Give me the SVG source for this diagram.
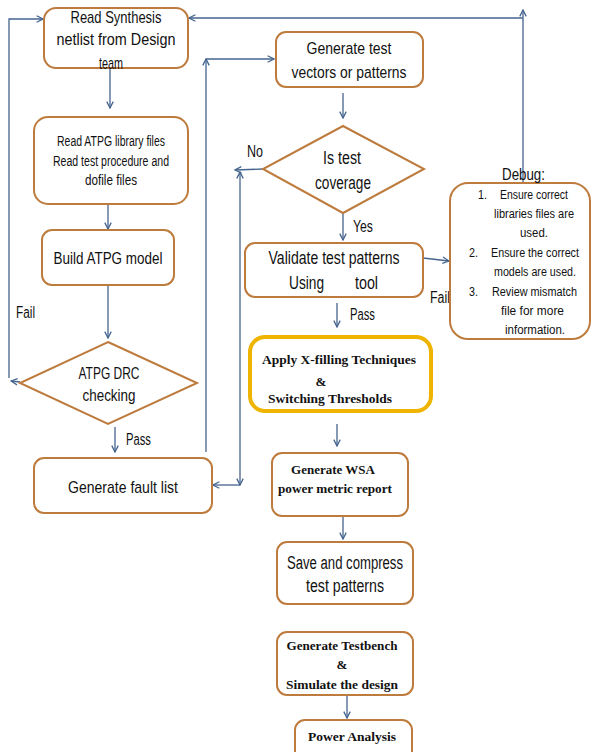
<svg xmlns="http://www.w3.org/2000/svg" width="592" height="752" viewBox="0 0 592 752">
<defs>
<marker id="arr" viewBox="0 0 10 10" refX="9" refY="5" markerWidth="8" markerHeight="8" markerUnits="userSpaceOnUse" orient="auto-start-reverse">
<path d="M1,1 L9,5 L1,9" fill="none" stroke="#45648E" stroke-width="1.6"/>
</marker>
<style>
.box{fill:#fff;stroke:#BE7B3E;stroke-width:2}
.gold{fill:#fff;stroke:#EFB400;stroke-width:4}
.c{fill:none;stroke:#45648E;stroke-width:1.3}
.s{font-family:"Liberation Sans",Arial,sans-serif;fill:#111;text-anchor:middle}
.b{font-family:"Liberation Serif","Times New Roman",serif;font-weight:bold;fill:#111;text-anchor:middle}
.l{font-family:"Liberation Sans",Arial,sans-serif;fill:#111}
</style>
</defs>
<rect width="592" height="752" fill="#fff"/>

<g id="connectors">
<path class="c" d="M110,68 V108" marker-end="url(#arr)"/>
<path class="c" d="M108,204 V229" marker-end="url(#arr)"/>
<path class="c" d="M108,285 V338" marker-end="url(#arr)"/>
<path class="c" d="M115,427 V452" marker-end="url(#arr)"/>
<path class="c" d="M20,382 L11,381" marker-end="url(#arr)"/>
<path class="c" d="M9,378 V19 H43" marker-end="url(#arr)"/>
<path class="c" d="M206,452 V59" marker-end="url(#arr)"/>
<path class="c" d="M206,59 H274" marker-end="url(#arr)"/>
<path class="c" d="M263,169 L235,170" marker-end="url(#arr)"/>
<path class="c" d="M240,172 V485" marker-start="url(#arr)" marker-end="url(#arr)"/>
<path class="c" d="M240,485 H213" marker-end="url(#arr)"/>
<path class="c" d="M523,183 V10" marker-end="url(#arr)"/>
<path class="c" d="M523,18 H189" marker-end="url(#arr)"/>
<path class="c" d="M343,93 V118" marker-end="url(#arr)"/>
<path class="c" d="M343,213 V240" marker-end="url(#arr)"/>
<path class="c" d="M423,258 L449,261" marker-end="url(#arr)"/>
<path class="c" d="M337,303 V327" marker-end="url(#arr)"/>
<path class="c" d="M337,424 V446" marker-end="url(#arr)"/>
<path class="c" d="M343,517 V539" marker-end="url(#arr)"/>
<path class="c" d="M347,695 V718" marker-end="url(#arr)"/>
<text class="l" x="16" y="318" font-size="16" textLength="19" lengthAdjust="spacingAndGlyphs">Fail</text>
<text class="l" x="126" y="445" font-size="16" textLength="25" lengthAdjust="spacingAndGlyphs">Pass</text>
<text class="l" x="247" y="157" font-size="16.5" textLength="16" lengthAdjust="spacingAndGlyphs">No</text>
<text class="l" x="353" y="232" font-size="17" textLength="20" lengthAdjust="spacingAndGlyphs">Yes</text>
<text class="l" x="430" y="303" font-size="16" textLength="20" lengthAdjust="spacingAndGlyphs">Fail</text>
<text class="l" x="350" y="320" font-size="16" textLength="25" lengthAdjust="spacingAndGlyphs">Pass</text>
</g>

<g id="readNetlist">
<rect class="box" x="44" y="8" width="144" height="60" rx="12"/>
<text class="s" x="116" y="23" font-size="17" textLength="91" lengthAdjust="spacingAndGlyphs">Read Synthesis</text>
<text class="s" x="116" y="45" font-size="17" textLength="119" lengthAdjust="spacingAndGlyphs">netlist  from Design</text>
<text class="s" x="111" y="69" font-size="17" textLength="24" lengthAdjust="spacingAndGlyphs">team</text>
</g>

<g id="readLib">
<rect class="box" x="34" y="117" width="154" height="87" rx="14"/>
<text class="s" x="111" y="146" font-size="14" textLength="108" lengthAdjust="spacingAndGlyphs">Read ATPG library files</text>
<text class="s" x="111" y="166" font-size="14" textLength="116" lengthAdjust="spacingAndGlyphs">Read test procedure and</text>
<text class="s" x="111" y="185" font-size="14" textLength="52" lengthAdjust="spacingAndGlyphs">dofile  files</text>
</g>

<g id="buildModel">
<rect class="box" x="42" y="230" width="132" height="55" rx="10"/>
<text class="s" x="108" y="264" font-size="17" textLength="109" lengthAdjust="spacingAndGlyphs">Build ATPG model</text>
</g>

<g id="drcCheck">
<polygon class="box" points="108,342 197,383 108,424 20,383"/>
<text class="s" x="109" y="379" font-size="16.5" textLength="61" lengthAdjust="spacingAndGlyphs">ATPG DRC</text>
<text class="s" x="109" y="401" font-size="16.5" textLength="53" lengthAdjust="spacingAndGlyphs">checking</text>
</g>

<g id="faultList">
<rect class="box" x="34" y="458" width="178" height="55" rx="10"/>
<text class="s" x="123" y="493" font-size="17" textLength="110" lengthAdjust="spacingAndGlyphs">Generate fault list</text>
</g>

<g id="genTest">
<rect class="box" x="276" y="32" width="147" height="55" rx="10"/>
<text class="s" x="349" y="54" font-size="17" textLength="85" lengthAdjust="spacingAndGlyphs">Generate test</text>
<text class="s" x="349" y="78" font-size="17" textLength="115" lengthAdjust="spacingAndGlyphs">vectors or patterns</text>
</g>

<g id="isCoverage">
<polygon class="box" points="343,126 424,169 343,213 263,169"/>
<text class="s" x="342" y="164" font-size="17.5" textLength="38" lengthAdjust="spacingAndGlyphs">Is test</text>
<text class="s" x="343" y="189" font-size="17.5" textLength="56" lengthAdjust="spacingAndGlyphs">coverage</text>
</g>

<g id="validate">
<rect class="box" x="245" y="243" width="178" height="54" rx="10"/>
<text class="s" x="334" y="264" font-size="17.5" textLength="131" lengthAdjust="spacingAndGlyphs">Validate test patterns</text>
<text class="l" x="289" y="289" font-size="17.5" textLength="35" lengthAdjust="spacingAndGlyphs">Using</text>
<text class="l" x="355" y="289" font-size="17.5" textLength="23" lengthAdjust="spacingAndGlyphs">tool</text>
</g>

<g id="debug">
<rect class="box" x="450" y="183" width="140" height="156" rx="18"/>
<text class="l" x="502" y="180" font-size="17" textLength="43" lengthAdjust="spacingAndGlyphs">Debug:</text>
<text class="l" x="478" y="199" font-size="12" textLength="9" lengthAdjust="spacingAndGlyphs">1.</text>
<text class="l" x="500" y="199" font-size="12" textLength="68" lengthAdjust="spacingAndGlyphs">Ensure correct</text>
<text class="l" x="494" y="218" font-size="12" textLength="80" lengthAdjust="spacingAndGlyphs">libraries files are</text>
<text class="l" x="520" y="237" font-size="12" textLength="28" lengthAdjust="spacingAndGlyphs">used.</text>
<text class="l" x="469" y="257" font-size="12" textLength="9" lengthAdjust="spacingAndGlyphs">2.</text>
<text class="l" x="491" y="257" font-size="12" textLength="88" lengthAdjust="spacingAndGlyphs">Ensure the correct</text>
<text class="l" x="494" y="276" font-size="12" textLength="82" lengthAdjust="spacingAndGlyphs">models are used.</text>
<text class="l" x="469" y="296" font-size="12" textLength="9" lengthAdjust="spacingAndGlyphs">3.</text>
<text class="l" x="492" y="296" font-size="12" textLength="85" lengthAdjust="spacingAndGlyphs">Review mismatch</text>
<text class="l" x="501" y="315" font-size="12" textLength="63" lengthAdjust="spacingAndGlyphs">file for more</text>
<text class="l" x="505" y="334" font-size="12" textLength="60" lengthAdjust="spacingAndGlyphs">information.</text>
</g>

<g id="applyXfill">
<rect class="gold" x="250" y="337" width="181" height="74" rx="15"/>
<text class="b" x="339" y="364" font-size="13" textLength="154" lengthAdjust="spacingAndGlyphs">Apply X-filling Techniques</text>
<text class="b" x="321" y="386" font-size="13">&amp;</text>
<text class="b" x="330" y="403" font-size="13" textLength="124" lengthAdjust="spacingAndGlyphs">Switching Thresholds</text>
</g>

<g id="wsaReport">
<rect class="box" x="272" y="453" width="136" height="63" rx="10"/>
<text class="b" x="333" y="474" font-size="13" textLength="84" lengthAdjust="spacingAndGlyphs">Generate WSA</text>
<text class="b" x="335" y="493" font-size="13" textLength="114" lengthAdjust="spacingAndGlyphs">power metric report</text>
</g>

<g id="savePatterns">
<rect class="box" x="277" y="542" width="136" height="62" rx="10"/>
<text class="s" x="345" y="569" font-size="18" textLength="116" lengthAdjust="spacingAndGlyphs">Save and compress</text>
<text class="s" x="345" y="592" font-size="18" textLength="78" lengthAdjust="spacingAndGlyphs">test patterns</text>
</g>

<g id="testbench">
<rect class="box" x="277" y="632" width="136" height="63" rx="10"/>
<text class="b" x="342" y="650" font-size="13" textLength="111" lengthAdjust="spacingAndGlyphs">Generate Testbench</text>
<text class="b" x="342" y="669" font-size="13">&amp;</text>
<text class="b" x="342" y="689" font-size="13" textLength="112" lengthAdjust="spacingAndGlyphs">Simulate the design</text>
</g>

<g id="powerAnalysis">
<rect class="box" x="295" y="720" width="117" height="42" rx="10"/>
<text class="b" x="352" y="741" font-size="13" textLength="88" lengthAdjust="spacingAndGlyphs">Power Analysis</text>
</g>
</svg>
